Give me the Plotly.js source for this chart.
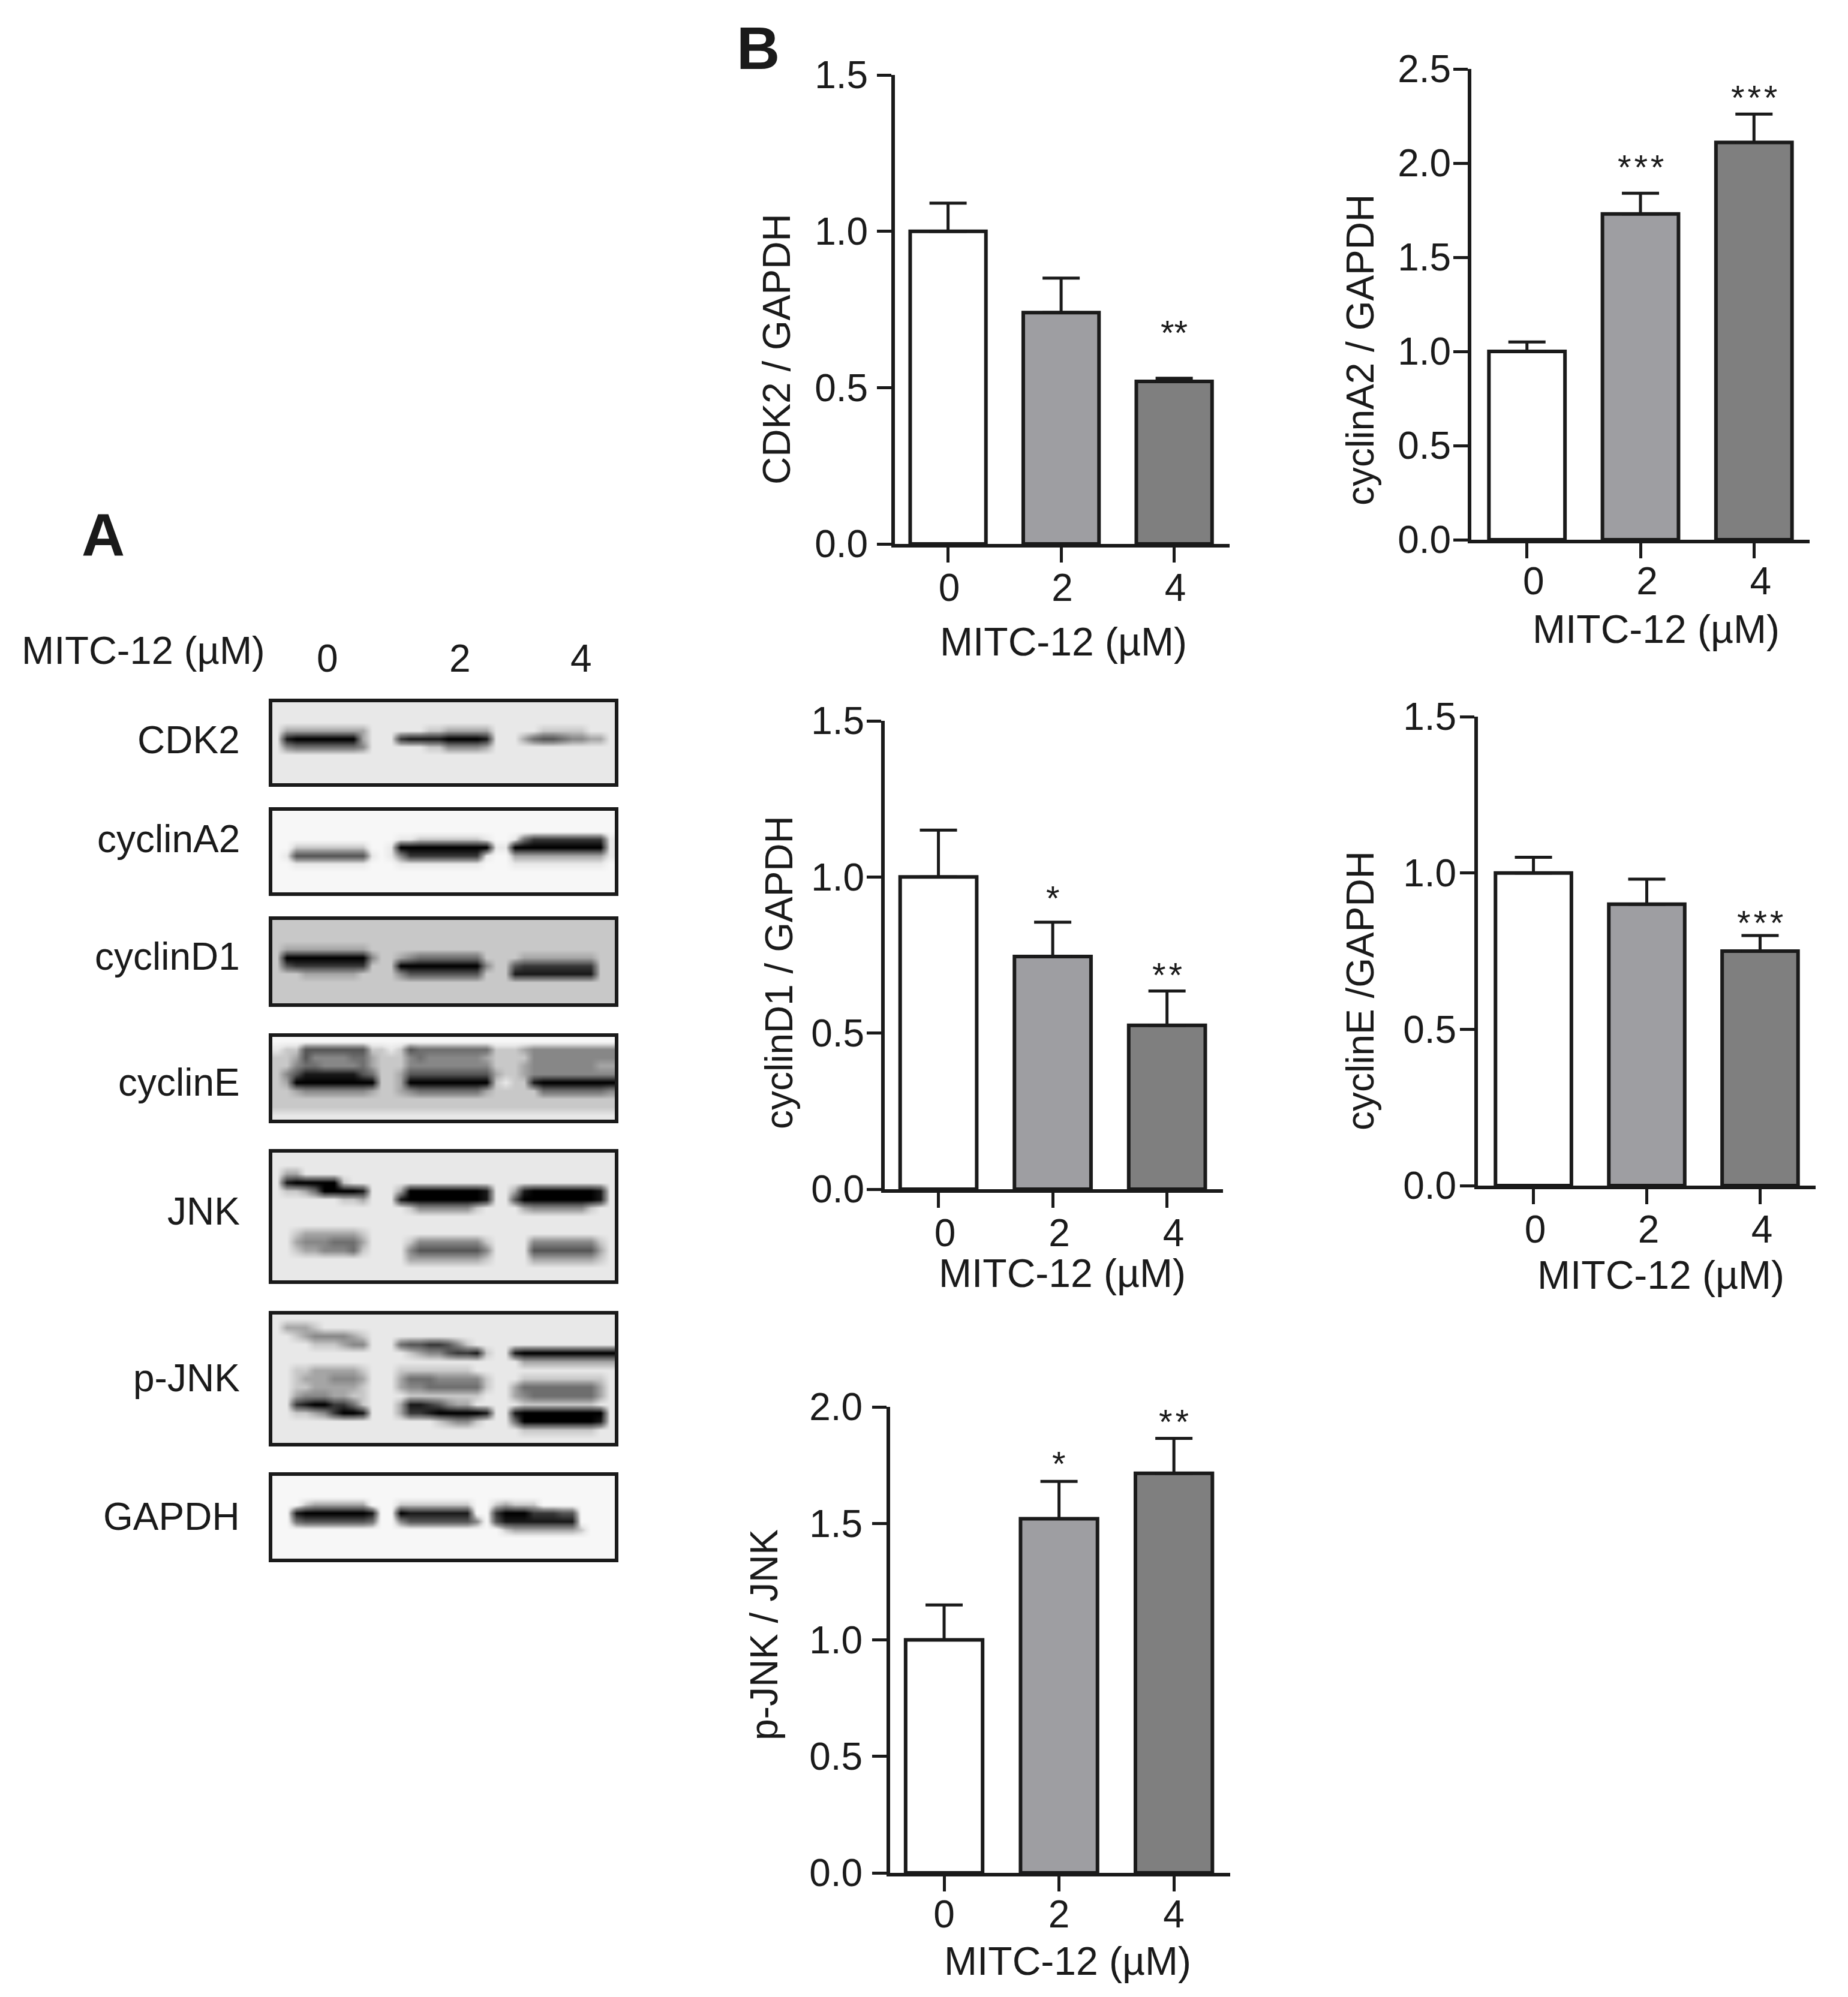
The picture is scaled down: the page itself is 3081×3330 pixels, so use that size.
<!DOCTYPE html>
<html>
<head>
<meta charset="utf-8">
<script src="https://cdn.plot.ly/plotly-3.0.1.min.js"></script>
<style>html,body{margin:0;padding:0;background:#fff}</style>
</head>
<body>
<div id="chart" style="width:3081px;height:3330px"></div>
<script>
// bar values
var doses = ['0', '2', '4'];
var cdk2 = [1.0, 0.74, 0.52];
var cdk2Err = [0.09, 0.11, 0.01];
var cyclinA2 = [1.0, 1.73, 2.11];
var cyclinA2Err = [0.05, 0.11, 0.15];
var cyclinD1 = [1.0, 0.745, 0.525];
var cyclinD1Err = [0.15, 0.11, 0.11];
var cyclinE = [1.0, 0.9, 0.75];
var cyclinEErr = [0.05, 0.08, 0.05];
var pJnk = [1.0, 1.52, 1.715];
var pJnkErr = [0.15, 0.16, 0.15];

// hair spaces keep the stars as loose as in the figure
var cdk2Stars = ['', '', '**'];
var cyclinA2Stars = ['', '*\u200a*\u200a*', '*\u200a*\u200a*'];
var cyclinD1Stars = ['', '*', '*\u200a*'];
var cyclinEStars = ['', '', '*\u200a*\u200a*'];
var pJnkStars = ['', '*', '*\u200a*'];

var cdk2StarY = [0, 0, 0.69];
var cyclinA2StarY = [0, 2.0, 2.37];
var cyclinD1StarY = [0, 0.945, 0.70];
var cyclinEStarY = [0, 0, 0.855];
var pJnkStarY = [0, 1.775, 1.955];

// blot scans as grey levels, 0 black .. 9 near white, one chunk per lane
var blotCdk2 = [
  '888888888888 888888888888 888888888888',
  '888888888888 888888888888 888888888888',
  '888888888888 888888888888 888888888888',
  '866666666688 888877666668 888877777888',
  '810000000688 821111000018 886433455668',
  '854444444588 888877555568 888888888888',
  '888888888888 888888888888 888888888888',
  '888888888888 888888888888 888888888888',
  '888888888888 888888888888 888888888888',
  '888888888888 888888888888 888888888888'
];
var blotCyclinA2 = [
  '999999999999 999999999999 999999999999',
  '999999999999 999999999999 999999999999',
  '999999999999 999999999999 999999999999',
  '999999999999 988777777789 984222222228',
  '997777777799 800000000008 800000000008',
  '983333333389 852222222289 966666666668',
  '998888888899 988888888899 988888888889',
  '999999999999 999999999999 999999999999',
  '999999999999 999999999999 999999999999',
  '999999999999 999999999999 999999999999'
];
var blotCyclinD1 = [
  '777777777777 777777777777 777777777777',
  '777777777777 777777777777 777777777777',
  '777777777777 777777777777 777777777777',
  '766666666677 777777777777 777777777777',
  '700000000057 765444444477 776666666677',
  '732222222277 700000000057 732222222277',
  '777666666777 753333333377 711111111177',
  '777777777777 777777777777 777777777777',
  '777777777777 777777777777 777777777777',
  '777777777777 777777777777 777777777777'
];
var blotCyclinE = [
  '999999999999 999999999999 999999999999',
  '877333333377 873444444447 776555555555',
  '776355554467 775455555567 777555555555',
  '775445555467 775555555557 776555555566',
  '753111111347 763333333336 776555555555',
  '760000000007 760000000007 877100000000',
  '776555555567 765444444467 777744444445',
  '777777777777 777777777777 777777777777',
  '777777777777 777777777777 777777777777',
  '888888888888 888888888888 888888888888'
];
var blotJnk = [
  '888888888888 888888888888 888888888888',
  '888888888888 888888888888 888888888888',
  '866888888888 888888888888 888888888888',
  '810000078888 888888888888 888888888888',
  '877640000188 860000000018 861000000018',
  '888888877688 810000000018 830000000018',
  '888888888888 887555555788 886555555788',
  '888888888888 888888888888 888888888888',
  '888888888888 888888888888 888888888888',
  '887666666788 888888888888 888888888888',
  '886555444688 887555555578 888555555578',
  '887665554788 885333333358 888333333368',
  '888888888888 886666666678 888666666678',
  '888888888888 888888888888 888888888888',
  '888888888888 888888888888 888888888888'
];
var blotPJnk = [
  '888888888888 888888888888 888888888888',
  '866678888888 888888888888 888888888888',
  '887655556788 888888888888 888888888888',
  '888877765588 843322357888 888888888888',
  '888888888888 887655322178 810000000000',
  '888888888888 888888888888 886666666666',
  '887766666788 877777777888 888888888888',
  '887666555688 864445555578 887777777778',
  '887766666788 865544444478 864444444468',
  '886555667788 887777777788 865444444468',
  '882100224788 861123566888 887777777788',
  '887765200188 862210000018 810000000008',
  '888888888888 888887655788 840000000018',
  '888888888888 888888888888 887777777788',
  '888888888888 888888888888 888888888888'
];
var blotGapdh = [
  '999999999999 999999999999 999999999999',
  '999999999999 999999999999 999999999999',
  '999999999999 999999999999 999999999999',
  '999766666699 977777777997 677799999999',
  '991000000019 901111111992 000222339999',
  '994333333349 953333333593 111111119999',
  '999999999999 999999999999 766666667999',
  '999999999999 999999999999 999999999999',
  '999999999999 999999999999 999999999999',
  '999999999999 999999999999 999999999999'
];

var W = 3081, H = 3330;
var FONT = 'Liberation Sans, Arial, sans-serif';
var INK = '#1a1a1a';
var BAR_COLORS = ['#ffffff', '#9e9ea2', '#7f7f7f'];
var BLOT_GREYS = [0, 25, 55, 85, 110, 135, 165, 200, 232, 247];

// pixel boxes of the five bar charts: left, right, top, bottom
var barBoxes = [
  {vals: cdk2, err: cdk2Err, stars: cdk2Stars, starY: cdk2StarY, top: 1.5, box: [1492, 2050, 125, 907], left: -0.47, name: 'CDK2 / GAPDH', nameAt: [1295, 582], xTitleAt: [1773, 1070], shift: 2, xOff: -13, yOff: 2},
  {vals: cyclinA2, err: cyclinA2Err, stars: cyclinA2Stars, starY: cyclinA2StarY, top: 2.5, box: [2453, 3017, 115, 900], left: -0.49, name: 'cyclinA2 / GAPDH', nameAt: [2268, 584], xTitleAt: [2761, 1049], shift: 11, xOff: -17, yOff: -9},
  {vals: cyclinD1, err: cyclinD1Err, stars: cyclinD1Stars, starY: cyclinD1StarY, top: 1.5, box: [1475, 2039, 1202, 1983], left: -0.47, name: 'cyclinD1 / GAPDH', nameAt: [1299, 1622], xTitleAt: [1771, 2123], shift: 11, xOff: -13, yOff: -9},
  {vals: cyclinE, err: cyclinEErr, stars: cyclinEStars, starY: cyclinEStarY, top: 1.5, box: [2464, 3027, 1195, 1977], left: -0.49, name: 'cyclinE /GAPDH', nameAt: [2268, 1652], xTitleAt: [2769, 2126], shift: 3, xOff: -13, yOff: -7},
  {vals: pJnk, err: pJnkErr, stars: pJnkStars, starY: pJnkStarY, top: 2.0, box: [1484, 2051, 2346, 3123], left: -0.47, name: 'p-JNK / JNK', nameAt: [1274, 2726], xTitleAt: [1780, 3270], shift: 0, xOff: -17, yOff: 3}
];

// blot boxes: top, bottom, and the label beside each
var blots = [
  {rows: blotCdk2, label: 'CDK2', y: [1168, 1309], labelY: 1234},
  {rows: blotCyclinA2, label: 'cyclinA2', y: [1349, 1491], labelY: 1399},
  {rows: blotCyclinD1, label: 'cyclinD1', y: [1531, 1676], labelY: 1595},
  {rows: blotCyclinE, label: 'cyclinE', y: [1726, 1870], labelY: 1805},
  {rows: blotJnk, label: 'JNK', y: [1919, 2138], labelY: 2020},
  {rows: blotPJnk, label: 'p-JNK', y: [2189, 2409], labelY: 2298},
  {rows: blotGapdh, label: 'GAPDH', y: [2458, 2602], labelY: 2529}
];

var data = [];
var layout = {
  width: W, height: H,
  margin: {l: 0, r: 0, t: 0, b: 0},
  paper_bgcolor: '#fff', plot_bgcolor: 'rgba(0,0,0,0)',
  showlegend: false,
  font: {family: FONT, color: INK},
  annotations: []
};

function addText(text, x, y, size, opts) {
  var a = {
    text: text, xref: 'paper', yref: 'paper', x: x / W, y: 1 - y / H,
    xanchor: 'center', yanchor: 'middle', showarrow: false,
    font: {family: FONT, size: size, color: INK}
  };
  for (var k in (opts || {})) a[k] = opts[k];
  layout.annotations.push(a);
}

var axisN = 1;

barBoxes.forEach(function (c) {
  var xName = 'x' + axisN, yName = 'y' + axisN;
  var xKey = 'xaxis' + axisN, yKey = 'yaxis' + axisN;
  axisN++;
  var b = c.box;
  data.push({
    type: 'bar', x: doses, y: c.vals, width: 0.67,
    xaxis: xName, yaxis: yName, cliponaxis: false,
    marker: {color: BAR_COLORS, line: {color: INK, width: 6}},
    error_y: {type: 'data', symmetric: false, array: c.err, arrayminus: [0, 0, 0],
      color: INK, thickness: 5, width: 31}
  });
  layout[xKey] = {
    domain: [b[0] / W, b[1] / W], anchor: yName, type: 'category',
    range: [c.left, 2.49], showline: true, linecolor: INK, linewidth: 6,
    showgrid: false, zeroline: false, ticks: 'outside', ticklen: 25, tickwidth: 5, tickcolor: INK,
    tickfont: {family: FONT, size: 64, color: INK}, ticklabelstandoff: c.xOff, ticklabelshift: c.shift
  };
  layout[yKey] = {
    domain: [1 - b[3] / H, 1 - b[2] / H], anchor: xName,
    range: [0, c.top], dtick: 0.5, tick0: 0, tickformat: '.1f',
    showline: true, linecolor: INK, linewidth: 6,
    showgrid: false, zeroline: false, ticks: 'outside', ticklen: 24, tickwidth: 5, tickcolor: INK,
    tickfont: {family: FONT, size: 64, color: INK}, ticklabelstandoff: c.yOff
  };
  addText(c.name, c.nameAt[0], c.nameAt[1], 64, {textangle: -90});
  addText('MITC-12 (µM)', c.xTitleAt[0], c.xTitleAt[1], 66);
  c.stars.forEach(function (s, i) {
    if (!s) return;
    layout.annotations.push({
      text: s, xref: xName, yref: yName, x: i, y: c.starY[i], yshift: -7,
      xanchor: 'center', yanchor: 'middle', showarrow: false,
      font: {family: FONT, size: 58, color: INK}
    });
  });
});

var blotScale = BLOT_GREYS.map(function (g, i) {
  return [i / 9, 'rgb(' + g + ',' + g + ',' + g + ')'];
});

blots.forEach(function (b) {
  var xName = 'x' + axisN, yName = 'y' + axisN;
  var xKey = 'xaxis' + axisN, yKey = 'yaxis' + axisN;
  axisN++;
  var z = b.rows.map(function (r) {
    return r.replace(/ /g, '').split('').map(Number);
  });
  data.push({
    type: 'heatmap', z: z, xaxis: xName, yaxis: yName, zmin: 0, zmax: 9, zsmooth: 'best',
    colorscale: blotScale, showscale: false, hoverinfo: 'skip'
  });
  var frame = {showline: true, mirror: true, linecolor: '#1a1a1a', linewidth: 6,
    showgrid: false, zeroline: false, ticks: '', showticklabels: false};
  layout[xKey] = Object.assign({domain: [454 / W, 1025 / W], anchor: yName, range: [-0.5, 35.5]}, frame);
  layout[yKey] = Object.assign({domain: [1 - (b.y[1] - 3) / H, 1 - (b.y[0] + 3) / H], anchor: xName,
    range: [z.length - 0.5, -0.5]}, frame);
  addText(b.label, 402, b.labelY, 64, {xanchor: 'right'});
});

addText('MITC-12 (µM)', 34, 1084, 65, {xanchor: 'left'});
addText('0', 546, 1098, 64);
addText('2', 767, 1098, 64);
addText('4', 969, 1098, 64);
addText('<b>A</b>', 172, 892, 100);
addText('<b>B</b>', 1264, 80, 100);

Plotly.newPlot('chart', data, layout, {staticPlot: true, displayModeBar: false});
</script>
</body>
</html>
